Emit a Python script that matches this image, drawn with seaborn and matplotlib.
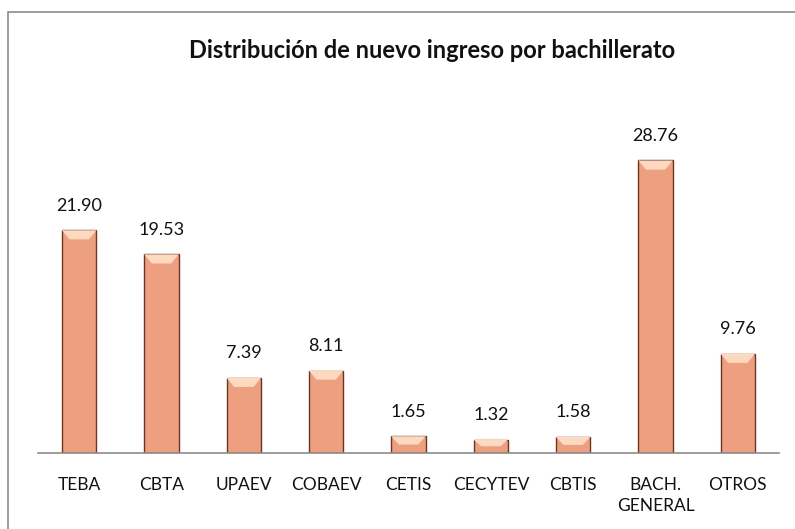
import matplotlib
matplotlib.use("Agg")
import matplotlib.pyplot as plt
import seaborn as sns
import pandas as pd
from matplotlib.patches import Polygon, Rectangle

categories = ["TEBA", "CBTA", "UPAEV", "COBAEV", "CETIS", "CECYTEV", "CBTIS", "BACH.\nGENERAL", "OTROS"]
values = [21.90, 19.53, 7.39, 8.11, 1.65, 1.32, 1.58, 28.76, 9.76]
labels = ["21.90", "19.53", "7.39", "8.11", "1.65", "1.32", "1.58", "28.76", "9.76"]

df = pd.DataFrame({"cat": categories, "val": values})

sns.set_theme(style="white")
plt.rcParams["font.family"] = ["Lato", "DejaVu Sans"]

fig = plt.figure(figsize=(7.95, 5.29), dpi=100)
ax = fig.add_axes([38 / 795, 1 - 453 / 529, (779 - 38) / 795, (453 - 97) / 529])

sns.barplot(data=df, x="cat", y="val", ax=ax, color="#EE9F7F", saturation=1,
            width=0.42, edgecolor="#6e3420", linewidth=1.0)

for p, lab in zip(ax.patches, labels):
    x0, w, h = p.get_x(), p.get_width(), p.get_height()
    # bevel highlight at the top of each bar
    bev = min(h * 0.5, 0.9)
    inset = w * 0.22
    tri = Polygon([[x0, h], [x0 + w, h], [x0 + w - inset, h - bev], [x0 + inset, h - bev]],
                  closed=True, facecolor="#FCD9BF", edgecolor="none", zorder=3)
    ax.add_patch(tri)
    ax.annotate(lab, (x0 + w / 2, h), xytext=(0, 12), textcoords="offset points",
                ha="center", va="bottom", fontsize=13, color="#111111")

ax.set_ylim(0, 35)
ax.set_xlim(-0.5, len(categories) - 0.5)
ax.set_xlabel("")
ax.set_ylabel("")
ax.set_yticks([])
for s in ["top", "right", "left"]:
    ax.spines[s].set_visible(False)
ax.spines["bottom"].set_color("#8c8c8c")
ax.spines["bottom"].set_linewidth(1.2)
ax.tick_params(axis="x", length=0, pad=17, labelsize=12.5, colors="#111111")
for t in ax.get_xticklabels():
    t.set_linespacing(1.45)

fig.text(432 / 795, 1 - 50 / 529, "Distribución de nuevo ingreso por bachillerato",
         ha="center", va="center", fontsize=17, fontweight="bold", color="#111111")

# chart frame: only left and top edges fall inside the image
fig.patches.append(Rectangle((8 / 795, -0.1), 1.2, (1 - 12 / 529) + 0.1,
                             transform=fig.transFigure, fill=False, edgecolor="#8c8c8c",
                             linewidth=1.2))

fig.savefig("out.png", dpi=100)
